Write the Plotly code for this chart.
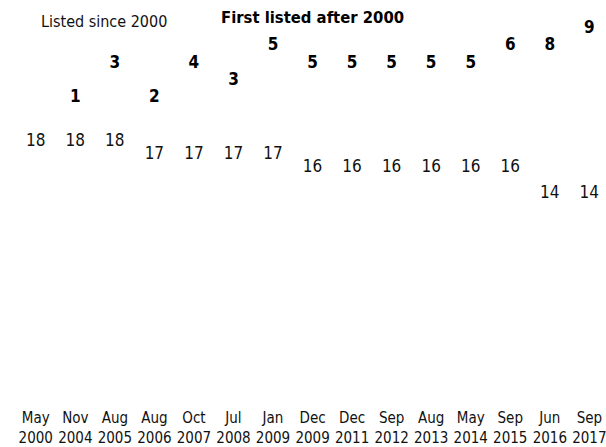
import plotly.graph_objects as go

# ---- data ----
months = ["May", "Nov", "Aug", "Aug", "Oct", "Jul", "Jan", "Dec", "Dec", "Sep", "Aug", "May", "Sep", "Jun", "Sep"]
years = ["2000", "2004", "2005", "2006", "2007", "2008", "2009", "2009", "2011", "2012", "2013", "2014", "2015", "2016", "2017"]
listed_since_2000 = [18, 18, 18, 17, 17, 17, 17, 16, 16, 16, 16, 16, 16, 14, 14]
first_listed_after_2000 = [0, 1, 3, 2, 4, 3, 5, 5, 5, 5, 5, 5, 6, 8, 9]
series_names = ["Listed since 2000", "First listed after 2000"]

FONT = "DejaVu Sans Condensed, Liberation Sans Narrow, sans-serif"

idx = list(range(len(months)))
tick_text = [f"{m}<br>{y}" for m, y in zip(months, years)]
totals = [a + b for a, b in zip(listed_since_2000, first_listed_after_2000)]

fig = go.Figure()

# bottom segment labels
fig.add_trace(go.Scatter(
    x=idx, y=listed_since_2000, mode="text",
    text=[str(v) for v in listed_since_2000],
    textposition="middle center", cliponaxis=False,
    textfont=dict(family=FONT, size=17, color="#111"),
    name=series_names[0], showlegend=False, hoverinfo="skip",
))

# top segment labels (at stack total), omit zero values
top_x = [i for i, v in zip(idx, first_listed_after_2000) if v > 0]
top_y = [t for t, v in zip(totals, first_listed_after_2000) if v > 0]
top_t = [str(v) for v in first_listed_after_2000 if v > 0]
fig.add_trace(go.Scatter(
    x=top_x, y=top_y, mode="text", text=top_t,
    textposition="middle center", cliponaxis=False,
    textfont=dict(family=FONT, size=17, color="#000", weight="bold"),
    name=series_names[1], showlegend=False, hoverinfo="skip",
    yaxis="y2",
))

fig.add_annotation(text=series_names[0], xref="paper", yref="paper",
                   x=0.1508, y=0.946, showarrow=False, xanchor="center", yanchor="middle",
                   font=dict(family=FONT, size=16, color="#111"))
fig.add_annotation(text=series_names[1], xref="paper", yref="paper",
                   x=0.5068, y=0.956, showarrow=False, xanchor="center", yanchor="middle",
                   font=dict(family=FONT, size=16.5, color="#000", weight="bold"))

fig.update_layout(
    width=606, height=447,
    margin=dict(l=16, r=0, t=0, b=40),
    paper_bgcolor="white", plot_bgcolor="white",
    showlegend=False,
    xaxis=dict(range=[-0.5, 14.32], tickmode="array", tickvals=idx, ticktext=tick_text,
               showgrid=False, zeroline=False, showline=False, ticks="",
               ticklabeloverflow="allow",
               tickfont=dict(family=FONT, size=15, color="#111")),
    yaxis=dict(range=[-2.48, 28.906], visible=False, showgrid=False),
    yaxis2=dict(range=[1.08, 24.675], visible=False, overlaying="y", showgrid=False),
)

fig.write_html("out.html",
               config={"displayModeBar": False},
               post_script="document.body.style.margin='0';document.body.style.overflow='hidden';")
